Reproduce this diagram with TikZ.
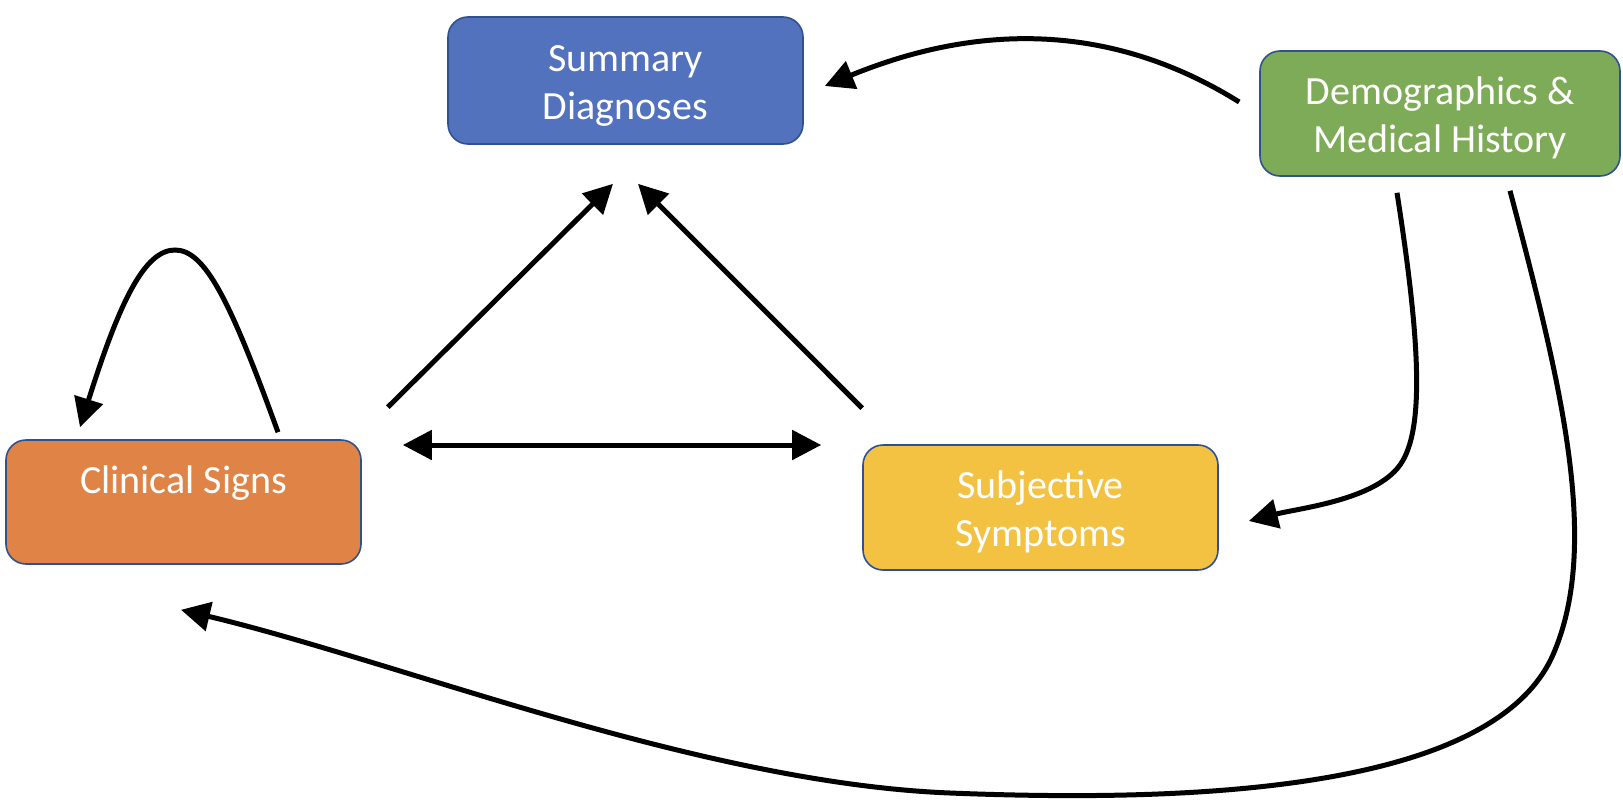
\documentclass[tikz,border=0pt]{standalone}
\usepackage{fontspec}
\setmainfont{Carlito}
\usetikzlibrary{arrows.meta}
\definecolor{boxline}{RGB}{47,82,143}
\definecolor{diagblue}{RGB}{82,114,190}
\definecolor{demogreen}{RGB}{125,171,87}
\definecolor{signorange}{RGB}{223,131,70}
\definecolor{symyellow}{RGB}{244,194,66}
\begin{document}
\begin{tikzpicture}[x=0.5pt,y=-0.5pt,
    >={Triangle[length=14.5pt,width=14.5pt]},
    box/.style={draw=boxline,line width=0.8pt,rounded corners=10pt,text=white,
      align=center,inner sep=0pt,font=\fontsize{20}{24}\selectfont,
      text height=44pt,text depth=5pt},
    arr/.style={->,line width=2.5pt}]
        \useasboundingbox (0,0) rectangle (1623,803);

        \node[box,fill=diagblue,minimum width=177.5pt,minimum height=63.5pt] (summ) at (625.5,80.5) {Summary\\Diagnoses};
        \node[box,fill=demogreen,minimum width=180pt,minimum height=62.5pt] (demo) at (1440,113.5) {Demographics \&\\Medical History};
        \node[box,fill=signorange,minimum width=177.5pt,minimum height=62pt] (clin) at (183.5,502) {Clinical Signs\\~};
        \node[box,fill=symyellow,minimum width=177.5pt,minimum height=62.5pt] (subj) at (1040.5,507.5) {Subjective\\Symptoms};

        \draw[arr] ([shift={(-20,-11.5)}]demo.west) .. controls (1140,40) and (1010,10) .. ([shift={(21,5.5)}]summ.east);
        \draw[arr] ([shift={(-43,16)}]demo.south) .. controls (1420,340) and (1425,430) .. (1400,465)
            .. controls (1375,500) and (1300,508) .. ([shift={(30,13.5)}]subj.east);
        \draw[arr] ([shift={(70,14)}]demo.south) .. controls (1560,380) and (1600,540) .. (1555,650)
            .. controls (1500,790) and (1200,803) .. (950,793)
            .. controls (700,783) and (400,662) .. ([shift={(-2.5,45)}]clin.south);

        \draw[arr] ([shift={(94.5,-7)}]clin.north) .. controls (230,300) and (205,250) .. (175,250)
            .. controls (145,250) and (120,300) .. ([shift={(-103.5,-12)}]clin.north);

        \draw[arr] ([shift={(26,-32)}]clin.north east) -- ([shift={(-12.5,39)}]summ.south);
        \draw[arr] ([shift={(0,-36)}]subj.north west) -- ([shift={(12.5,39)}]summ.south);
        \draw[arr,<->] ([shift={(41,-57)}]clin.east) -- ([shift={(-41,-62.5)}]subj.west);

    \end{tikzpicture}
\end{document}
